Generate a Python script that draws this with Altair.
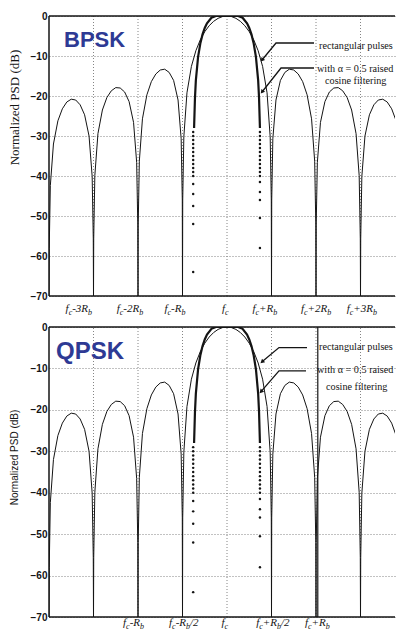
import altair as alt
import pandas as pd

# ---------------- data ----------------
XMIN, XMAX = -4.0, 3.775
W = 346
H_TOP, H_BOT = 280, 290
BOT_EXT = 14          # extra room under the lower panel for its tick labels
PPU = W / (XMAX - XMIN)

# rectangular pulses (thin curve), right half, main lobe
main_x = [0.0, 0.1, 0.2, 0.3, 0.4, 0.5, 0.6, 0.7, 0.8, 0.9, 0.97, 0.995, 1.0]
main_db = [0.0, -0.14, -0.58, -1.33, -2.42, -3.92, -5.94, -8.69, -12.6, -19.2, -30.2, -46.0, -70.0]
# side lobes: offsets inside each lobe and read dB values
lobe_off = [0.0, 0.005, 0.03, 0.1, 0.2, 0.3, 0.4, 0.5, 0.6, 0.7, 0.8, 0.9, 0.97, 0.995, 1.0]
lobe1_db = [-70, -46.0, -30.7, -21.0, -16.1, -14.1, -13.3, -13.5, -14.5, -16.4, -19.7, -25.7, -36.3, -52.0, -70]
lobe2_db = [-70, -52.0, -36.6, -26.6, -21.4, -19.0, -18.0, -17.9, -18.7, -20.4, -23.5, -29.4, -39.9, -55.6, -70]
lobe3_db = [-70, -55.7, -40.1, -30.0, -24.7, -22.2, -21.0, -20.8, -21.5, -23.2, -26.2, -32.0, -42.4, -58.1, -70]

# raised-cosine filtered (bold curve), right half
rc_x = [0.0, 0.25, 0.35, 0.45, 0.5, 0.55, 0.6, 0.65, 0.7, 0.72, 0.74]
rc_db = [0.0, 0.0, -0.44, -1.84, -3.0, -4.6, -6.9, -10.2, -16.1, -20.5, -28.0]

# dotted tails of the filtered spectrum
dots_left_x = -0.76
dots_left_db = [-29, -30, -31, -32, -33, -34, -35, -36, -37, -38, -39, -40, -42, -44.5, -47.5, -52, -64]
dots_right_x = 0.74
dots_right_db = [-29, -30, -31, -32, -33, -34, -35, -36, -37, -38, -39, -40, -41.5, -44, -46, -50.5, -58]

# tick labels ("_x" = subscript x)
bpsk_label_pos = [-3.33, -2.18, -1.17, -0.04, 0.85, 2.0, 3.03]
bpsk_labels = ["f_c-3R_b", "f_c-2R_b", "f_c-R_b", "f_c", "f_c+R_b", "f_c+2R_b", "f_c+3R_b"]
qpsk_label_pos = [-2.1, -0.97, -0.05, 1.03, 2.03]
qpsk_labels = ["f_c-R_b", "f_c-R_b/2", "f_c", "f_c+R_b/2", "f_c+R_b"]

grid_x = [-3, -2, -1, 0, 1, 2, 3]
grid_y = [-70, -60, -50, -40, -30, -20, -10, 0]

# ---------------- build tables ----------------
def thin_curve():
    pts = list(zip(main_x, main_db))
    for k, lobe in enumerate([lobe1_db, lobe2_db, lobe3_db], start=1):
        pts += [(k + o, v) for o, v in zip(lobe_off, lobe)]
    full = sorted(set([(-x, v) for x, v in pts] + pts))
    return pd.DataFrame(full, columns=["x", "y"])


def rc_curve():
    pts = list(zip(rc_x, rc_db))
    full = sorted(set([(-x, v) for x, v in pts] + pts))
    return pd.DataFrame(full, columns=["x", "y"])


def dots():
    rows = [{"x": dots_left_x, "y": v} for v in dots_left_db]
    rows += [{"x": dots_right_x, "y": v} for v in dots_right_db]
    return pd.DataFrame(rows)


CW = {"f": 0.278, "c": 0.444, "-": 0.333, "+": 0.675, "2": 0.5, "3": 0.5,
      "R": 0.611, "b": 0.5, "/": 0.278}
MAIN_FS, SUB_FS = 11, 8


def parse(lab):
    pieces, cur, i = [], "", 0
    while i < len(lab):
        if lab[i] == "_":
            if cur:
                pieces.append((cur, 0))
                cur = ""
            pieces.append((lab[i + 1], 1))
            i += 2
        else:
            cur += lab[i]
            i += 1
    if cur:
        pieces.append((cur, 0))
    return pieces


def label_rows(pos, labels):
    rows = []
    for c, lab in zip(pos, labels):
        pcs = parse(lab)
        ws = [sum(CW.get(ch, 0.5) for ch in t) * (SUB_FS if s else MAIN_FS) for t, s in pcs]
        off = -sum(ws) / 2
        for (t, s), w in zip(pcs, ws):
            rows.append({"x": c + off / PPU, "t": t, "sub": s})
            off += w
    return pd.DataFrame(rows)


def px2x(px):
    return (px - 228) / 44.5


INK = "#141414"
xs = alt.Scale(domain=[XMIN, XMAX], nice=False, zero=False)


def panel(H, ext, name, name_size, name_pos, lab_pos, labels, lab_base, lab_clip,
          title_font, title_size, title_y, leaders, texts, extra_rule=None):
    ymin = -70 - ext * 70.0 / H
    ys = alt.Scale(domain=[ymin, 0], nice=False, zero=False)
    X = alt.X("x:Q", scale=xs, title=None, axis=None)
    Y = alt.Y("y:Q", scale=ys,
              axis=alt.Axis(values=grid_y, ticks=False, grid=True, gridDash=[1, 2],
                            gridColor="#777", gridWidth=0.9, domain=False,
                            labelFont="Liberation Sans",
                            labelFontWeight="bold", labelFontSize=10, labelColor=INK,
                            labelPadding=2, title="Normalized PSD (dB)",
                            titleFont=title_font, titleFontSize=title_size,
                            titleFontWeight="normal", titleColor=INK, titleAngle=270,
                            titleX=-35, titleY=title_y, titleAlign="center",
                            titleBaseline="middle"))

    vgrid = alt.Chart(pd.DataFrame({"x": grid_x, "y": [-70] * len(grid_x), "y2": [0] * len(grid_x)})
                      ).mark_rule(color="#777", strokeWidth=0.9, strokeDash=[1, 2]).encode(
        x=X, y=Y, y2="y2:Q")
    left = alt.Chart(pd.DataFrame({"x": [XMIN], "y": [-70], "y2": [0]})).mark_rule(
        color=INK, strokeWidth=1.5).encode(x=X, y=Y, y2="y2:Q")
    hframe = alt.Chart(pd.DataFrame({"y": [0, -70]})).mark_rule(
        color=INK, strokeWidth=1.5).encode(y=Y)

    thin = alt.Chart(thin_curve()).mark_line(color=INK, strokeWidth=1, clip=True).encode(x=X, y=Y)
    bold = alt.Chart(rc_curve()).mark_line(color=INK, strokeWidth=2.2, clip=True).encode(x=X, y=Y)
    dot = alt.Chart(dots()).mark_point(filled=True, color=INK, size=6, opacity=1).encode(x=X, y=Y)

    lr = label_rows(lab_pos, labels)
    lab_main = alt.Chart(lr[lr["sub"] == 0]).mark_text(
        font="Liberation Serif", fontStyle="italic", fontSize=MAIN_FS, align="left",
        baseline="alphabetic", color=INK, clip=lab_clip).encode(
        x=X, y=alt.value(H + lab_base), text="t:N")
    lab_sub = alt.Chart(lr[lr["sub"] == 1]).mark_text(
        font="Liberation Serif", fontStyle="italic", fontSize=SUB_FS, align="left",
        baseline="alphabetic", color=INK, clip=lab_clip).encode(
        x=X, y=alt.value(H + lab_base + 2.5), text="t:N")

    name_df = pd.DataFrame([{"x": name_pos[0], "y": name_pos[1], "t": name}])
    name_t = alt.Chart(name_df).mark_text(
        font="Liberation Sans", fontWeight="bold", fontSize=name_size, align="left",
        baseline="middle", color="#2e3a94").encode(x=X, y=Y, text="t:N")

    lrows, arrows = [], []
    for i, (pts, ang) in enumerate(leaders):
        for j, (x, y) in enumerate(pts):
            lrows.append({"x": x, "y": y, "g": i, "o": j})
        arrows.append({"x": pts[-1][0], "y": pts[-1][1], "a": ang})
    lead = alt.Chart(pd.DataFrame(lrows)).mark_line(color=INK, strokeWidth=1.3).encode(
        x=X, y=Y, detail="g:N", order="o:Q")
    heads = alt.Chart(pd.DataFrame(arrows)).mark_point(
        shape="triangle-up", filled=True, color=INK, size=22, opacity=1).encode(
        x=X, y=Y, angle=alt.Angle("a:Q", scale=None))
    ann = alt.Chart(pd.DataFrame(texts, columns=["x", "y", "t"])).mark_text(
        font="Liberation Serif", fontSize=10.2, align="left", baseline="middle",
        color=INK, clip=True).encode(x=X, y=Y, text="t:N")

    layers = [vgrid, thin, bold, dot, left, hframe, lab_main, lab_sub, name_t, lead, heads, ann]
    if extra_rule is not None:
        layers.append(alt.Chart(pd.DataFrame({"x": [extra_rule], "y": [-70], "y2": [0]})).mark_rule(
            color=INK, strokeWidth=1.2).encode(x=X, y=Y, y2="y2:Q"))
    return alt.layer(*layers).properties(width=W, height=H + ext)


bpsk_leaders = [
    ([(px2x(315), -6.75), (px2x(277), -6.75), (px2x(263), -11.0)], 219),
    ([(px2x(315), -13.0), (px2x(282), -13.0), (px2x(263), -19.0)], 218),
]
bpsk_texts = [
    (px2x(320), -7.5, "rectangular pulses"),
    (px2x(318), -13.25, "with \u03b1 = 0.5 raised"),
    (px2x(326), -16.25, "cosine filtering"),
]
qpsk_leaders = [
    ([(px2x(308), -4.96), (px2x(280), -4.96), (px2x(263), -8.4)], 229),
    ([(px2x(307), -10.6), (px2x(280), -10.6), (px2x(262), -15.6)], 221),
]
qpsk_texts = [
    (px2x(320), -4.8, "rectangular pulses"),
    (px2x(318), -10.3, "with \u03b1 = 0.5 raised"),
    (px2x(327), -14.4, "cosine filtering"),
]

top_panel = panel(H_TOP, 0, "BPSK", 22, (px2x(65), -6.0), bpsk_label_pos, bpsk_labels,
                  16, False, "Liberation Serif", 13, 91, bpsk_leaders, bpsk_texts)
bot_panel = panel(H_BOT, BOT_EXT, "QPSK", 24, (px2x(57), -6.0), qpsk_label_pos, qpsk_labels,
                  9, True, "Liberation Sans", 10, 130, qpsk_leaders, qpsk_texts,
                  extra_rule=2.04)

chart = alt.vconcat(top_panel, bot_panel, spacing=5).configure_view(stroke=None).properties(
    padding={"top": 3, "left": 0, "right": 0, "bottom": 0})

chart.save("out.html", embed_options={"renderer": "svg", "actions": False})
